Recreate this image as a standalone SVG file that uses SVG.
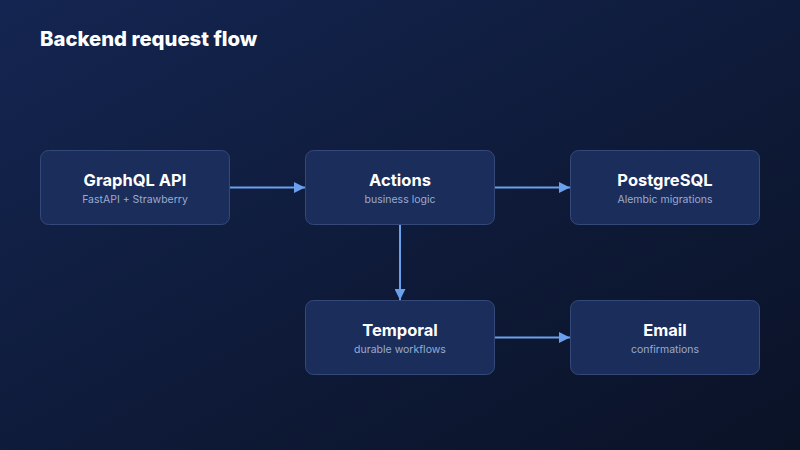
<svg xmlns="http://www.w3.org/2000/svg" width="800" height="450" viewBox="0 0 800 450">
<defs>
<linearGradient id="bg" x1="0" y1="0" x2="1" y2="1">
<stop offset="0" stop-color="#142551"/>
<stop offset="0.55" stop-color="#0e1a38"/>
<stop offset="1" stop-color="#0a1226"/>
</linearGradient>
<marker id="arr" viewBox="0 0 10 10" refX="10" refY="5" markerWidth="11" markerHeight="11" markerUnits="userSpaceOnUse" orient="auto">
<path d="M0,0 L10,5 L0,10 Z" fill="#6aa0ec"/>
</marker>
<style>
.box{fill:#1b2d5a;stroke:#34487a;stroke-width:1;}
.t{font-family:Inter,"Liberation Sans",sans-serif;font-weight:700;font-size:16.5px;fill:#ffffff;text-anchor:middle;}
.s{font-family:Inter,"Liberation Sans",sans-serif;font-size:10.5px;fill:#9aabd0;text-anchor:middle;}
.c{stroke:#6aa0ec;stroke-width:2;fill:none;marker-end:url(#arr);}
</style>
</defs>
<rect width="800" height="450" fill="url(#bg)"/>
<text x="40" y="46" font-family="Inter,'Liberation Sans',sans-serif" font-weight="800" font-size="20.3" fill="#ffffff">Backend request flow</text>
<g id="connectors">
<line class="c" x1="230" y1="187.5" x2="305" y2="187.5"/>
<line class="c" x1="495" y1="187.5" x2="570" y2="187.5"/>
<line class="c" x1="400" y1="225" x2="400" y2="300"/>
<line class="c" x1="495" y1="337.5" x2="570" y2="337.5"/>
</g>
<g id="graphql">
<rect class="box" x="40.5" y="150.5" width="189" height="74" rx="8"/>
<text class="t" x="135" y="186">GraphQL API</text>
<text class="s" x="135" y="202.5">FastAPI + Strawberry</text>
</g>
<g id="actions">
<rect class="box" x="305.5" y="150.5" width="189" height="74" rx="8"/>
<text class="t" x="400" y="186">Actions</text>
<text class="s" x="400" y="202.5">business logic</text>
</g>
<g id="postgres">
<rect class="box" x="570.5" y="150.5" width="189" height="74" rx="8"/>
<text class="t" x="665" y="186">PostgreSQL</text>
<text class="s" x="665" y="202.5">Alembic migrations</text>
</g>
<g id="temporal">
<rect class="box" x="305.5" y="300.5" width="189" height="74" rx="8"/>
<text class="t" x="400" y="336">Temporal</text>
<text class="s" x="400" y="352.5">durable workflows</text>
</g>
<g id="email">
<rect class="box" x="570.5" y="300.5" width="189" height="74" rx="8"/>
<text class="t" x="665" y="336">Email</text>
<text class="s" x="665" y="352.5">confirmations</text>
</g>
</svg>
